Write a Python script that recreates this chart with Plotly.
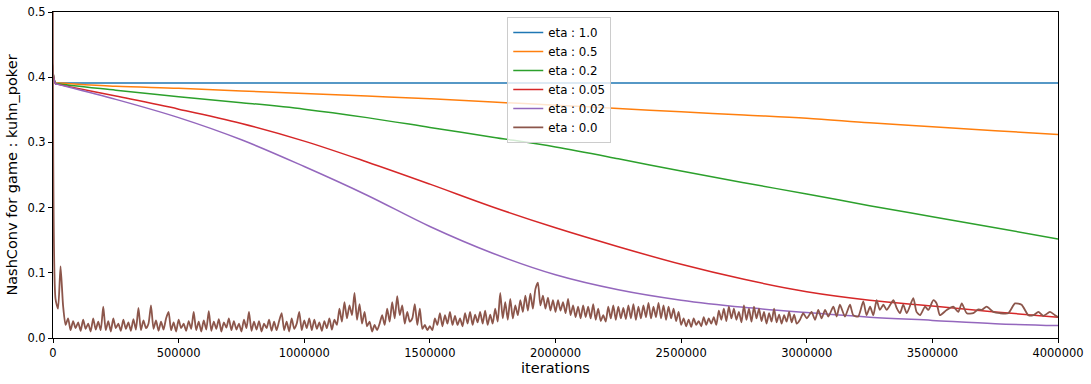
import plotly.graph_objects as go

# ---------------- data ----------------
x_ticks = [0, 500000, 1000000, 1500000, 2000000, 2500000, 3000000, 3500000, 4000000]
x_tick_labels = ["0", "500000", "1000000", "1500000", "2000000", "2500000", "3000000", "3500000", "4000000"]
y_ticks = [0.0, 0.1, 0.2, 0.3, 0.4, 0.5]
y_tick_labels = ["0.0", "0.1", "0.2", "0.3", "0.4", "0.5"]

smooth_iters = [0, 10000, 20000, 250000, 500000, 750000, 1000000, 1250000, 1500000, 1750000,
                2000000, 2250000, 2500000, 2750000, 3000000, 3250000, 3500000, 3750000, 4000000]

eta_1_0 = [0.917, 0.391, 0.391, 0.391, 0.391, 0.391, 0.391, 0.391, 0.391, 0.391,
           0.391, 0.391, 0.391, 0.391, 0.391, 0.391, 0.391, 0.391, 0.391]
eta_0_5 = [0.917, 0.391, 0.391, 0.386, 0.383, 0.379, 0.375, 0.371, 0.367, 0.362,
           0.357, 0.352, 0.347, 0.342, 0.337, 0.330, 0.324, 0.318, 0.312]
eta_0_2 = [0.917, 0.391, 0.390, 0.380, 0.370, 0.361, 0.351, 0.338, 0.323, 0.308,
           0.293, 0.275, 0.256, 0.238, 0.221, 0.203, 0.186, 0.169, 0.152]
eta_0_05 = [0.917, 0.390, 0.389, 0.371, 0.351, 0.329, 0.302, 0.270, 0.236, 0.201,
            0.169, 0.140, 0.113, 0.090, 0.071, 0.058, 0.049, 0.040, 0.032]
eta_0_02 = [0.917, 0.390, 0.389, 0.366, 0.338, 0.304, 0.263, 0.219, 0.171, 0.130,
            0.097, 0.074, 0.058, 0.047, 0.039, 0.032, 0.027, 0.022, 0.019]

# eta : 0.0 -- dense part, one value every 10000 iterations from 0
eta_0_0_dense = [
    0.917, 0.060, 0.045, 0.110, 0.050, 0.020, 0.030, 0.012, 0.026, 0.015,
    0.024, 0.011, 0.028, 0.014, 0.022, 0.010, 0.030, 0.013, 0.025, 0.012,
    0.048, 0.012, 0.026, 0.010, 0.030, 0.015, 0.022, 0.011, 0.028, 0.014,
    0.024, 0.011, 0.029, 0.013, 0.046, 0.012, 0.027, 0.015, 0.022, 0.050,
    0.014, 0.027, 0.011, 0.025, 0.013, 0.030, 0.040, 0.012, 0.024, 0.010,
    0.028, 0.015, 0.022, 0.011, 0.026, 0.014, 0.040, 0.012, 0.025, 0.010,
    0.027, 0.013, 0.041, 0.011, 0.025, 0.014, 0.029, 0.010, 0.024, 0.016,
    0.030, 0.012, 0.026, 0.013, 0.022, 0.010, 0.028, 0.015, 0.040, 0.011,
    0.025, 0.013, 0.026, 0.010, 0.022, 0.015, 0.028, 0.011, 0.025, 0.012,
    0.026, 0.038, 0.012, 0.025, 0.010, 0.030, 0.014, 0.022, 0.040, 0.012,
    0.027, 0.015, 0.030, 0.012, 0.028, 0.014, 0.024, 0.011, 0.026, 0.015,
    0.030, 0.013, 0.028, 0.020, 0.045, 0.025, 0.055, 0.030, 0.050, 0.035,
    0.069, 0.028, 0.052, 0.022, 0.040, 0.018, 0.025, 0.010, 0.020, 0.012,
    0.022, 0.035, 0.020, 0.045, 0.025, 0.055, 0.030, 0.064, 0.035, 0.050,
    0.022, 0.040, 0.025, 0.030, 0.052, 0.020, 0.045, 0.014, 0.020, 0.012,
    0.018, 0.012, 0.030, 0.020, 0.038, 0.018, 0.035, 0.022, 0.040, 0.020,
    0.034, 0.020, 0.030, 0.018, 0.038, 0.022, 0.040, 0.020, 0.036, 0.024,
    0.040, 0.022, 0.042, 0.020, 0.036, 0.022, 0.045, 0.025, 0.069, 0.030,
    0.055, 0.028, 0.060, 0.030, 0.050, 0.035, 0.058, 0.040, 0.065, 0.042,
    0.068, 0.045, 0.075, 0.085, 0.050, 0.065, 0.045, 0.062, 0.042, 0.058,
    0.040, 0.058, 0.042, 0.055, 0.038, 0.060, 0.035, 0.050, 0.032, 0.048,
    0.030, 0.050, 0.032, 0.048, 0.030, 0.052, 0.028, 0.045, 0.026, 0.035,
    0.025, 0.048, 0.030, 0.050, 0.028, 0.048, 0.030, 0.046, 0.029, 0.050,
    0.030, 0.052, 0.028, 0.048, 0.030, 0.050, 0.032, 0.054, 0.030, 0.048,
    0.032, 0.054, 0.030, 0.050, 0.028, 0.048, 0.030, 0.045, 0.026, 0.040,
    0.020, 0.030, 0.018, 0.028, 0.017, 0.030, 0.020, 0.026, 0.018, 0.032,
    0.020, 0.030, 0.022, 0.032, 0.020, 0.042, 0.028, 0.045, 0.026, 0.048,
    0.030, 0.045, 0.028, 0.040, 0.024, 0.050, 0.028, 0.045, 0.025, 0.048,
    0.030, 0.045, 0.026, 0.040, 0.022, 0.038, 0.025, 0.045, 0.024, 0.036,
    0.022, 0.035, 0.025, 0.040, 0.024, 0.036, 0.022,
]
dense_step = 10000

# eta : 0.0 -- sparser tail
eta_0_0_tail_iters = [
    2973000, 2986000, 3000000, 3019000, 3033000, 3046000, 3059000, 3073000, 3086000, 3106000,
    3119000, 3132000, 3152000, 3172000, 3185000, 3205000, 3225000, 3238000, 3252000, 3265000,
    3278000, 3291000, 3305000, 3318000, 3345000, 3358000, 3371000, 3384000, 3398000, 3424000,
    3437000, 3451000, 3471000, 3484000, 3504000, 3517000, 3530000, 3557000, 3583000, 3603000,
    3617000, 3637000, 3663000, 3683000, 3696000, 3716000, 3743000, 3769000, 3802000, 3829000,
    3855000, 3882000, 3902000, 3922000, 3942000, 3968000, 3988000, 4000000,
]
eta_0_0_tail = [
    0.028, 0.038, 0.030, 0.040, 0.028, 0.043, 0.030, 0.043, 0.033, 0.048,
    0.033, 0.051, 0.033, 0.051, 0.035, 0.033, 0.056, 0.035, 0.048, 0.035,
    0.058, 0.043, 0.051, 0.043, 0.058, 0.046, 0.038, 0.051, 0.038, 0.061,
    0.040, 0.035, 0.048, 0.043, 0.058, 0.053, 0.035, 0.043, 0.048, 0.040,
    0.053, 0.038, 0.038, 0.044, 0.043, 0.048, 0.040, 0.038, 0.038, 0.053,
    0.051, 0.035, 0.035, 0.040, 0.034, 0.040, 0.035, 0.032,
]

series_names = ["eta : 1.0", "eta : 0.5", "eta : 0.2", "eta : 0.05", "eta : 0.02", "eta : 0.0"]
series_colors = ["#1f77b4", "#ff7f0e", "#2ca02c", "#d62728", "#9467bd", "#8c564b"]

# ---------------- figure ----------------
fig = go.Figure()
smooth_series = [eta_1_0, eta_0_5, eta_0_2, eta_0_05, eta_0_02]
for name, color, vals in zip(series_names[:5], series_colors[:5], smooth_series):
    fig.add_trace(go.Scatter(x=smooth_iters, y=vals, mode="lines", name=name,
                             line=dict(color=color, width=1.5, shape="spline", smoothing=1.0)))

brown_x = [dense_step * i for i in range(len(eta_0_0_dense))] + eta_0_0_tail_iters
brown_y = eta_0_0_dense + eta_0_0_tail
fig.add_trace(go.Scatter(x=brown_x, y=brown_y, mode="lines", name=series_names[5],
                         line=dict(color=series_colors[5], width=1.8, shape="spline", smoothing=0.6)))

font_family = "DejaVu Sans"
axis_common = dict(showline=True, linecolor="black", linewidth=1, mirror=True,
                   ticks="outside", ticklen=4, tickcolor="black", tickwidth=1,
                   showgrid=False, zeroline=False, automargin=False,
                   tickfont=dict(family=font_family, size=11.5, color="black"))

fig.update_layout(
    width=1091, height=384,
    margin=dict(l=53, r=33, t=12, b=46),
    paper_bgcolor="white", plot_bgcolor="white",
    font=dict(family=font_family, color="black"),
    showlegend=True,
    legend=dict(x=0.452, y=0.985, xanchor="left", yanchor="top",
                bgcolor="rgba(255,255,255,0.8)", bordercolor="#cccccc", borderwidth=1,
                font=dict(family=font_family, size=11.8, color="black"),
                itemwidth=30, tracegroupgap=0),
    xaxis=dict(range=[0, 4000000], tickvals=x_ticks, ticktext=x_tick_labels,
               title=dict(text="iterations", font=dict(family=font_family, size=14.5), standoff=4),
               **axis_common),
    yaxis=dict(range=[0, 0.5], tickvals=y_ticks, ticktext=y_tick_labels,
               title=dict(text="NashConv for game : kuhn_poker", font=dict(family=font_family, size=14.5), standoff=6),
               **axis_common),
)

# remove the browser's default 8px page margin so the figure fills the window exactly
fig.write_html("out.html", config={"displayModeBar": False},
               post_script="document.body.style.margin='0';")
